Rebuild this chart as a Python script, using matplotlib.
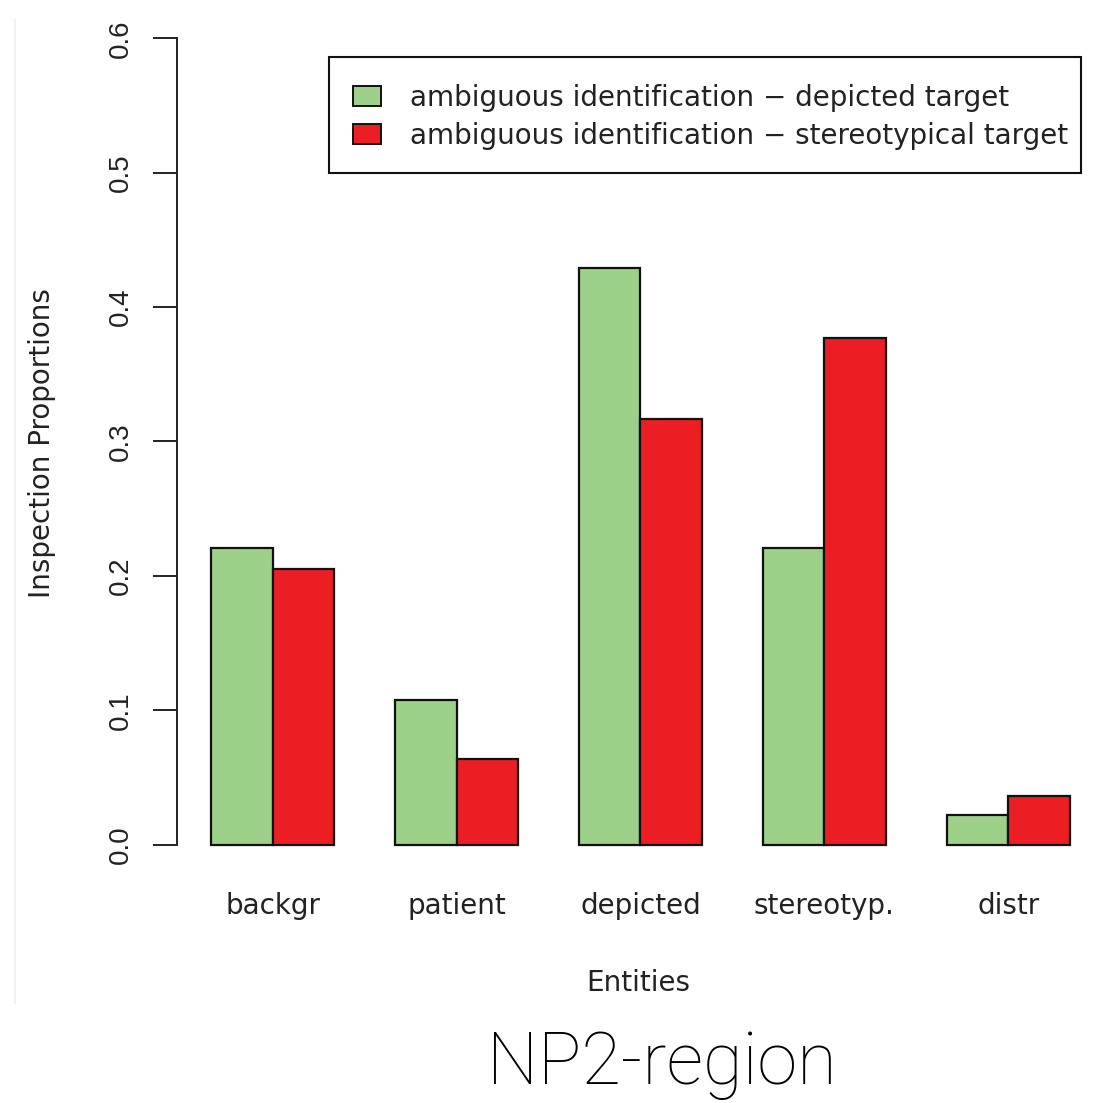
import numpy as np
import matplotlib
matplotlib.use("Agg")
import matplotlib.pyplot as plt
from matplotlib.lines import Line2D
from matplotlib.patches import Patch, Rectangle

plt.rcParams["font.family"] = ["DejaVu Sans"]
DIGITS = ["Liberation Sans", "DejaVu Sans"]

entities = ["backgr", "patient", "depicted", "stereotyp.", "distr"]
depicted_target = [0.221, 0.108, 0.429, 0.221, 0.022]
stereotypical_target = [0.205, 0.064, 0.317, 0.377, 0.036]
series_labels = ["ambiguous identification \u2212 depicted target",
                 "ambiguous identification \u2212 stereotypical target"]
colors = ["#9dd18a", "#ec1e24"]
ink = "#222222"

W, H = 1094, 1103
fig = plt.figure(figsize=(W / 100, H / 100), dpi=100)

# plot region in pixels (R-style barplot, space = c(0, 1))
x0, x1 = 177, 1094
y_top, y_bot = 6, 877
ax = fig.add_axes([x0 / W, 1 - y_bot / H, (x1 - x0) / W, (y_bot - y_top) / H])

n = len(entities)
left = 1 + 3 * np.arange(n)
ax.bar(left, depicted_target, width=1, align="edge", color=colors[0],
       edgecolor="#111111", linewidth=1.6)
ax.bar(left + 1, stereotypical_target, width=1, align="edge", color=colors[1],
       edgecolor="#111111", linewidth=1.6)

ax.set_xlim(0.44, 0.44 + (x1 - x0) / 61.3)
ax.set_ylim(-0.024, 0.624)

for s in ["top", "right", "bottom"]:
    ax.spines[s].set_visible(False)
ax.spines["left"].set_bounds(0, 0.6)
ax.spines["left"].set_linewidth(1.4)
ax.spines["left"].set_color(ink)

yt = np.arange(0, 0.61, 0.1)
ax.set_yticks(yt)
ax.set_yticklabels([f"{v:.1f}" for v in yt], rotation=90, va="center",
                   fontsize=20, color=ink, family=DIGITS)
ax.tick_params(axis="y", length=17, width=1.4, color=ink, pad=14)

ax.set_xticks(left + 1)
ax.set_xticklabels(entities, fontsize=20, color=ink)
ax.tick_params(axis="x", length=0, pad=11)

fig.text(638 / W, 1 - 983 / H, "Entities", ha="center", va="center",
         fontsize=20, color=ink)
fig.text(42 / W, 1 - 443 / H, "Inspection Proportions", ha="center",
         va="center", rotation=90, fontsize=20, color=ink)

# legend entries without frame, box drawn separately (R legend style)
handles = [Patch(facecolor=c, edgecolor="#111111", linewidth=1.4) for c in colors]
leg = ax.legend(handles, series_labels, loc="upper left",
                bbox_to_anchor=(353 / W, 1 - 84 / H),
                bbox_transform=fig.transFigure, borderaxespad=0,
                fontsize=20, frameon=False,
                handlelength=1.0, handleheight=0.72, handletextpad=1.05,
                labelspacing=0.35, borderpad=0)
for t in leg.get_texts():
    t.set_color(ink)
fig.add_artist(Rectangle((329 / W, 1 - 173 / H), (1081 - 329) / W, (173 - 57) / H,
                         transform=fig.transFigure, facecolor="none",
                         edgecolor="#111111", linewidth=1.5))

# faint border of the plot panel
fig.add_artist(Line2D([15 / W, 15 / W], [1 - 20 / H, 1 - 1003 / H],
                      color="#f2f2f2", linewidth=1.5))

fig.text(662 / W, 1 - 1065 / H, "NP2-region", ha="center", va="center",
         fontsize=52, family=["Roboto", "Liberation Sans"], weight="light")

fig.savefig("out.png", dpi=100)
